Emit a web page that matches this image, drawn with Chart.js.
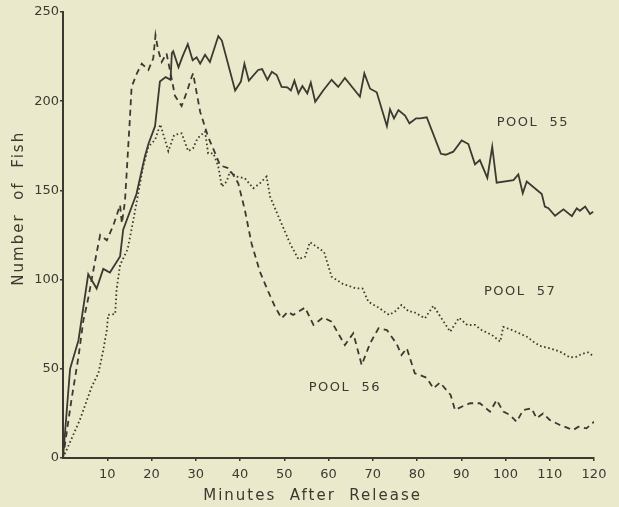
<!DOCTYPE html>
<html>
<head>
<meta charset="utf-8">
<script src="https://cdn.jsdelivr.net/npm/chart.js@4.4.1/dist/chart.umd.min.js"></script>
<style>
  html, body { margin: 0; padding: 0; background: #ebe9cb; }
  #wrap { width: 619px; height: 507px; position: relative; }
</style>
</head>
<body>
<div id="wrap"><canvas id="fishChart"></canvas></div>
<script>
// ---- data (minutes after release, number of fish) ----
const minutes55 = [0, 1.6, 3.5, 5.7, 7.6, 9.1, 10.6, 12.9, 13.6, 16.6, 18.5, 19.3, 20.8, 21.9, 23.2, 24.3, 24.6, 24.9, 26.1, 27, 28.2, 29.3, 30.2, 31, 32.1, 33.2, 35.1, 35.9, 38.9, 40.2, 41, 42, 44.1, 45, 46.2, 47.2, 48.3, 49.4, 50.7, 51.5, 52.3, 53.2, 54.1, 55.2, 56, 57, 58.8, 60.7, 62.2, 63.7, 67.1, 68.1, 69.4, 70.9, 73.2, 73.9, 74.8, 75.8, 77.3, 78.3, 79.8, 80.7, 82.2, 85.4, 86.5, 88.2, 90.1, 91.6, 93.1, 94.2, 95.9, 97, 98, 101.8, 102.9, 103.9, 104.8, 108.2, 108.9, 109.7, 111.2, 113.1, 115, 116.1, 116.8, 118, 119.1, 119.8];
const fish55 = [0, 50, 66, 103, 95, 106, 104, 113, 128, 148, 169, 176, 186, 211, 213.5, 212, 227, 228, 219, 225, 232, 223, 224.6, 221, 226, 222, 236.5, 234, 206, 211, 221, 211.5, 217.5, 218, 212, 216.5, 214.7, 208, 207.8, 206, 211.5, 204.4, 208.5, 204.4, 210.4, 199.7, 206, 212, 208, 213, 202.5, 215.6, 207, 205, 186, 195.5, 190.4, 195, 192, 187.6, 190.4, 190.4, 191, 170.5, 170, 171.7, 178, 176, 164.6, 167, 157, 174.5, 154.3, 155.8, 159, 148.4, 155, 148, 140.9, 140, 135.8, 139.4, 135.6, 140, 138.6, 141, 136.8, 138];

const minutes56 = [0, 1.9, 3.5, 4.6, 5.7, 6.8, 7.6, 8.4, 9.9, 11.4, 12.9, 13.3, 14, 15.1, 15.5, 16.7, 17.8, 19.3, 20.4, 20.9, 21.5, 22.3, 23.4, 24.6, 25.3, 26.8, 28, 29.1, 29.4, 31, 32.8, 34.4, 35.5, 37.4, 38.5, 39.6, 41.1, 42.6, 44.5, 46.4, 47.9, 49.4, 50.8, 52, 54.7, 56.6, 58.8, 60.7, 63.7, 65.6, 67.5, 69.4, 71.3, 73.2, 75.4, 76.5, 77.7, 79.5, 82.2, 83.7, 85.2, 87.6, 88.6, 90.5, 92, 94.2, 96.5, 98, 99.5, 101, 102.5, 104, 105.9, 107, 108.5, 110, 112.3, 115.3, 116.5, 118.3, 120];
const fish56 = [0, 32.5, 56.8, 77, 89.5, 104.4, 115, 125, 122, 130.6, 141.8, 131.5, 143.7, 189.5, 208, 215.6, 221, 217.5, 224, 237, 228.7, 222, 226.8, 212, 203, 197.3, 205.3, 213.7, 215.6, 194, 180, 170.8, 164, 162.4, 158.6, 154, 139, 120.3, 104.4, 93.2, 84.8, 78.3, 82, 80.2, 84.3, 74.6, 78.8, 76.4, 63.3, 69.9, 52.1, 64.3, 72.7, 71.7, 64, 57.7, 61.5, 47.5, 45, 39, 42.3, 35.3, 26.9, 29.2, 30.7, 30.7, 26, 32.5, 26, 24.1, 20.3, 26.9, 27.9, 22.3, 25, 21.3, 18.5, 15.7, 17.5, 16.6, 20.3];

const minutes57 = [0, 3.8, 6.5, 8, 9.1, 9.9, 10.2, 11.8, 12.1, 12.9, 14.6, 15.9, 17, 18.1, 19.3, 20.8, 22, 23.8, 25.1, 26.8, 28.3, 29.4, 30.4, 32.1, 32.8, 34, 35.1, 35.9, 37, 37.7, 39.3, 41.1, 43, 44.5, 46, 46.8, 48.7, 51.3, 53.2, 54.7, 55.8, 59, 60.7, 63.3, 66.2, 67.7, 69, 71.5, 73.7, 75, 76.5, 78.2, 79.2, 81.8, 83.7, 87.5, 89.5, 91.4, 93.1, 94.6, 96.9, 98.8, 99.5, 101.8, 104.8, 106.3, 107.8, 110, 112.3, 114.6, 116.1, 117.2, 118.7, 120];
const fish57 = [0, 21.3, 40, 47.5, 60.5, 71.7, 80.2, 80.7, 94.2, 108.2, 117, 133.4, 148.4, 163.3, 174.5, 178.3, 187, 172, 181, 182, 172, 173.6, 179.2, 183, 170.8, 170.8, 163.3, 152.1, 155, 160.5, 157.7, 156.8, 151.2, 154, 157.7, 146.5, 135.3, 120.3, 111.4, 112.8, 121, 115.5, 101.6, 97.5, 95.1, 95, 87.6, 84, 80.2, 82, 85.8, 82, 82, 78.3, 85.3, 70.8, 78.6, 74.5, 74.6, 71.7, 69, 65.2, 73.5, 71.4, 68, 65.2, 62.8, 61.5, 59.6, 56.4, 56.8, 58.3, 59.2, 56.8];

const xTickValues = [10, 20, 30, 40, 50, 60, 70, 80, 90, 100, 110, 120];
const yTickValues = [0, 50, 100, 150, 200, 250];

const seriesNames = ['POOL 55', 'POOL 56', 'POOL 57'];
// where each name sits, in data units
const labelMinutes = [106.2, 63.7, 103.3];
const labelFish = [187.8, 39.2, 93];

const INK = '#3a3a31';
const FONT = '"DejaVu Sans", sans-serif';

function toPoints(xs, ys) {
  return xs.map((x, i) => ({x: x, y: ys[i]}));
}

// pool names and axis titles, drawn after the lines
const annotatePlugin = {
  id: 'annotatePlugin',
  afterDraw(chart) {
    const ctx = chart.ctx;
    const {x, y} = chart.scales;
    const area = chart.chartArea;
    ctx.save();
    ctx.fillStyle = INK;
    ctx.textAlign = 'center';
    ctx.textBaseline = 'middle';
    ctx.font = '13px ' + FONT;
    ctx.letterSpacing = '1.5px';
    seriesNames.forEach((name, i) => {
      ctx.fillText(name.replace(' ', '  '), x.getPixelForValue(labelMinutes[i]), y.getPixelForValue(labelFish[i]));
    });

    ctx.font = '15px ' + FONT;
    ctx.letterSpacing = '2px';
    ctx.fillText('Minutes  After  Release', area.left + (area.right - area.left) * 0.47, area.bottom + 38);

    ctx.translate(19, area.top + (area.bottom - area.top) * 0.44);
    ctx.rotate(-Math.PI / 2);
    ctx.fillText('Number  of  Fish', 0, 0);
    ctx.restore();
  }
};

const bgPlugin = {
  id: 'bgPlugin',
  beforeDraw(chart) {
    const ctx = chart.ctx;
    ctx.save();
    ctx.fillStyle = '#ebe9cb';
    ctx.fillRect(0, 0, chart.width, chart.height);
    ctx.restore();
  }
};

const ctx = document.getElementById('fishChart').getContext('2d');
new Chart(ctx, {
  type: 'line',
  data: {
    datasets: [
      {
        label: seriesNames[0],
        data: toPoints(minutes55, fish55),
        borderColor: INK,
        borderWidth: 1.8,
      },
      {
        label: seriesNames[1],
        data: toPoints(minutes56, fish56),
        borderColor: INK,
        borderWidth: 1.8,
        borderDash: [6, 4.5],
      },
      {
        label: seriesNames[2],
        data: toPoints(minutes57, fish57),
        borderColor: INK,
        borderWidth: 1.8,
        borderDash: [1.6, 2.6],
      }
    ]
  },
  options: {
    responsive: true,
    maintainAspectRatio: false,
    animation: false,
    events: [],
    elements: { point: { radius: 0 }, line: { tension: 0, fill: false } },
    layout: { padding: {top: 12, right: 25, left: 0, bottom: 0} },
    plugins: {
      legend: { display: false },
      tooltip: { enabled: false }
    },
    scales: {
      x: {
        type: 'linear',
        min: 0,
        max: 120,
        afterBuildTicks: (scale) => { scale.ticks = xTickValues.map(v => ({value: v})); },
        afterFit: (scale) => { scale.height = 49; },
        grid: { display: true, drawOnChartArea: false, drawTicks: true, tickLength: 3, color: INK, lineWidth: 1.5 },
        border: { display: true, color: INK, width: 2 },
        ticks: { color: INK, font: { family: FONT, size: 13 }, padding: 6, maxRotation: 0 }
      },
      y: {
        type: 'linear',
        min: 0,
        max: 250,
        afterBuildTicks: (scale) => { scale.ticks = yTickValues.map(v => ({value: v})); },
        afterFit: (scale) => { scale.width = 63; },
        grid: { display: true, drawOnChartArea: false, drawTicks: true, tickLength: 3, color: INK, lineWidth: 1.5 },
        border: { display: true, color: INK, width: 2 },
        ticks: { color: INK, font: { family: FONT, size: 13 }, padding: 1 }
      }
    }
  },
  plugins: [bgPlugin, annotatePlugin]
});
</script>
</body>
</html>
